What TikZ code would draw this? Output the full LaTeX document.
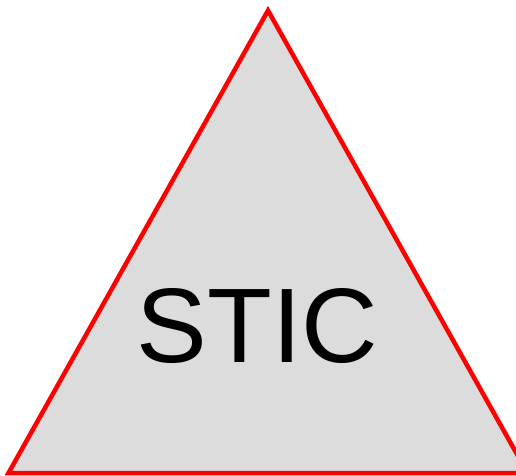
\documentclass[tikz,border=0pt]{standalone}
\usepackage{fontspec}
\setmainfont{Liberation Sans}
\definecolor{trifill}{HTML}{DCDCDC}
\tikzset{tri/.style={draw=red, fill=trifill, line width=4.5pt, line join=miter},
  lbl/.style={font=\fontsize{106}{106}\selectfont, text=black, inner sep=0pt, anchor=base}}
\begin{document}
\begin{tikzpicture}[x=1pt,y=1pt]
\useasboundingbox (0,0) rectangle (516,475);
\clip (0,0) rectangle (516,475);
\coordinate (apex) at (268,464.5);
\coordinate (bl) at (8.5,2);
\coordinate (br) at (527.5,2);
\draw[tri] (apex) -- (bl) -- (br) -- cycle;
\node[lbl] (t) at (257.5,112.5) {STIC};
\end{tikzpicture}
\end{document}
